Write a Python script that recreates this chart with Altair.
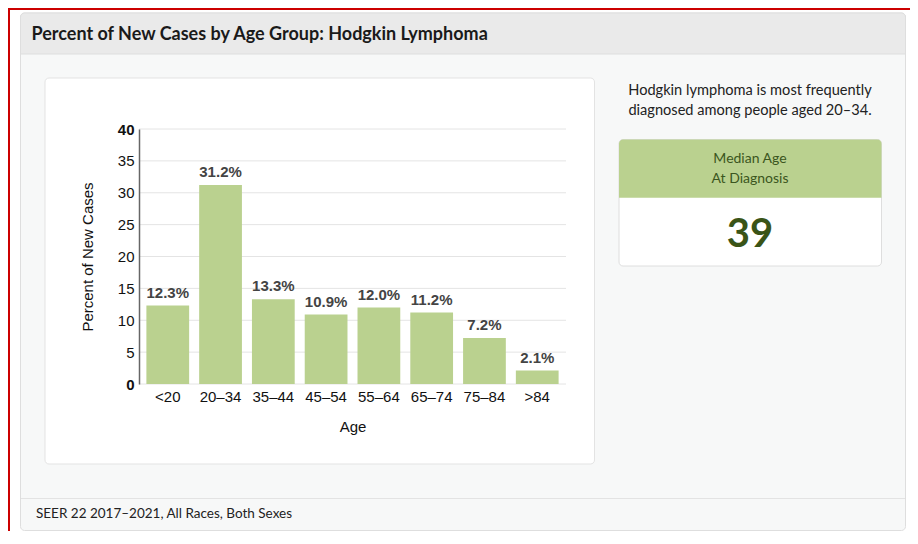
import altair as alt
import pandas as pd

# ---- data ----
ages = ["<20", "20–34", "35–44", "45–54", "55–64", "65–74", "75–84", ">84"]
percents = [12.3, 31.2, 13.3, 10.9, 12.0, 11.2, 7.2, 2.1]
y_ticks = [0, 5, 10, 15, 20, 25, 30, 35, 40]
median_age = "39"
title_text = "Percent of New Cases by Age Group: Hodgkin Lymphoma"
footer_text = "SEER 22 2017–2021, All Races, Both Sexes"
note_lines = ["Hodgkin lymphoma is most frequently", "diagnosed among people aged 20–34."]
median_lines = ["Median Age", "At Diagnosis"]

df = pd.DataFrame({"age": ages, "pct": percents,
                   "label": [f"{v:.1f}%" for v in percents]})
grid = pd.DataFrame({"v": y_ticks})
one = pd.DataFrame({"a": [0]})

W, H = 427, 255
BAR = "#bad18f"
CHART_FONT = "Liberation Sans"
UI_FONT = "Lato"


def box(x, x2, y, y2, **kw):
    return alt.Chart(one).mark_rect(**kw).encode(
        x=alt.value(x), x2=alt.value(x2), y=alt.value(y), y2=alt.value(y2))


def txt(x, y, s, **kw):
    return alt.Chart(one).mark_text(**kw).encode(
        x=alt.value(x), y=alt.value(y), text=alt.value(s))


y_axis = alt.Axis(
    title="Percent of New Cases", values=y_ticks, grid=False, ticks=False,
    domain=True, domainColor="#666666", domainWidth=1.5, zindex=1,
    labelFont=CHART_FONT, labelFontSize=15, labelColor="#111111", labelPadding=5,
    labelFontWeight={"expr": "datum.value == 0 || datum.value == 40 ? 'bold' : 'normal'"},
    titleFont=CHART_FONT, titleFontSize=15, titleFontWeight="normal",
    titleColor="#111111", titlePadding=22)
y_scale = alt.Scale(domain=[0, 40], nice=False, zero=True)

x_axis = alt.Axis(
    title="Age", labelAngle=0, ticks=False, domain=False, grid=False, zindex=1,
    labelFont=CHART_FONT, labelFontSize=15, labelColor="#111111", labelPadding=5,
    titleFont=CHART_FONT, titleFontSize=15, titleFontWeight="normal",
    titleColor="#111111", titlePadding=15)
x_scale = alt.Scale(paddingInner=0.19, paddingOuter=0.14)

layers = [
    # red frame
    box(-131, -129, -121, 406, color="#cc0000"),
    box(-131, 771, -121, -119, color="#cc0000"),
    # outer card
    box(-118.5, 766.5, -116, 401.5, color="#f7f8f8", stroke="#dedede",
        strokeWidth=1, cornerRadius=4),
    box(-118.5, 766.5, -116, -75, color="#eaeaea", stroke="#dedede", strokeWidth=1,
        cornerRadiusTopLeft=4, cornerRadiusTopRight=4),
    txt(-107.5, -89, title_text, align="left", baseline="alphabetic",
        font=UI_FONT, fontSize=18, fontWeight="bold", color="#1a1a1a"),
    # footer
    box(-118.5, 766.5, 369, 369.8, color="#dcdcdc"),
    txt(-103, 389, footer_text, align="left", baseline="alphabetic",
        font=UI_FONT, fontSize=13.5, color="#222222"),
    # chart card
    box(-94, 455.5, -51, 335, color="#ffffff", stroke="#e3e3e3",
        strokeWidth=1, cornerRadius=4),
    # right note
    txt(611, -34, note_lines[0], align="center", baseline="alphabetic",
        font=UI_FONT, fontSize=14.6, color="#222222"),
    txt(611, -14, note_lines[1], align="center", baseline="alphabetic",
        font=UI_FONT, fontSize=14.6, color="#222222"),
    # median box
    box(480, 742.5, 10.5, 137, color="#ffffff", stroke="#dedede",
        strokeWidth=1, cornerRadius=4),
    box(480, 742.5, 10.5, 68.7, color=BAR,
        cornerRadiusTopLeft=4, cornerRadiusTopRight=4),
    txt(611, 34, median_lines[0], align="center", baseline="alphabetic",
        font=UI_FONT, fontSize=14, color="#3b5620"),
    txt(611, 54, median_lines[1], align="center", baseline="alphabetic",
        font=UI_FONT, fontSize=14, color="#3b5620"),
    txt(611, 118, median_age, align="center", baseline="alphabetic",
        font=UI_FONT, fontSize=40, fontWeight="bold", color="#3a5417"),
    # gridlines
    alt.Chart(grid).mark_rule(color="#e4e4e4", strokeWidth=1).encode(
        y=alt.Y("v:Q", scale=y_scale, axis=y_axis),
        x=alt.value(0), x2=alt.value(W)),
    # bars
    alt.Chart(df).mark_bar(color=BAR).encode(
        x=alt.X("age:N", sort=ages, scale=x_scale, axis=x_axis),
        y=alt.Y("pct:Q", scale=y_scale, axis=y_axis)),
    alt.Chart(df).mark_text(dy=-5, baseline="bottom", font=CHART_FONT, fontSize=15,
                            fontWeight="bold", color="#444444").encode(
        x=alt.X("age:N", sort=ages, scale=x_scale, axis=x_axis),
        y=alt.Y("pct:Q", scale=y_scale, axis=y_axis),
        text="label:N"),
]

chart = alt.layer(*layers).properties(
    width=W, height=H,
    autosize=alt.AutoSizeParams(type="none"),
    padding={"left": 131, "top": 121, "right": 344, "bottom": 147},
    background="#ffffff",
).configure_view(strokeWidth=0)

chart.save("out.html", embed_options={"renderer": "svg", "actions": False})
